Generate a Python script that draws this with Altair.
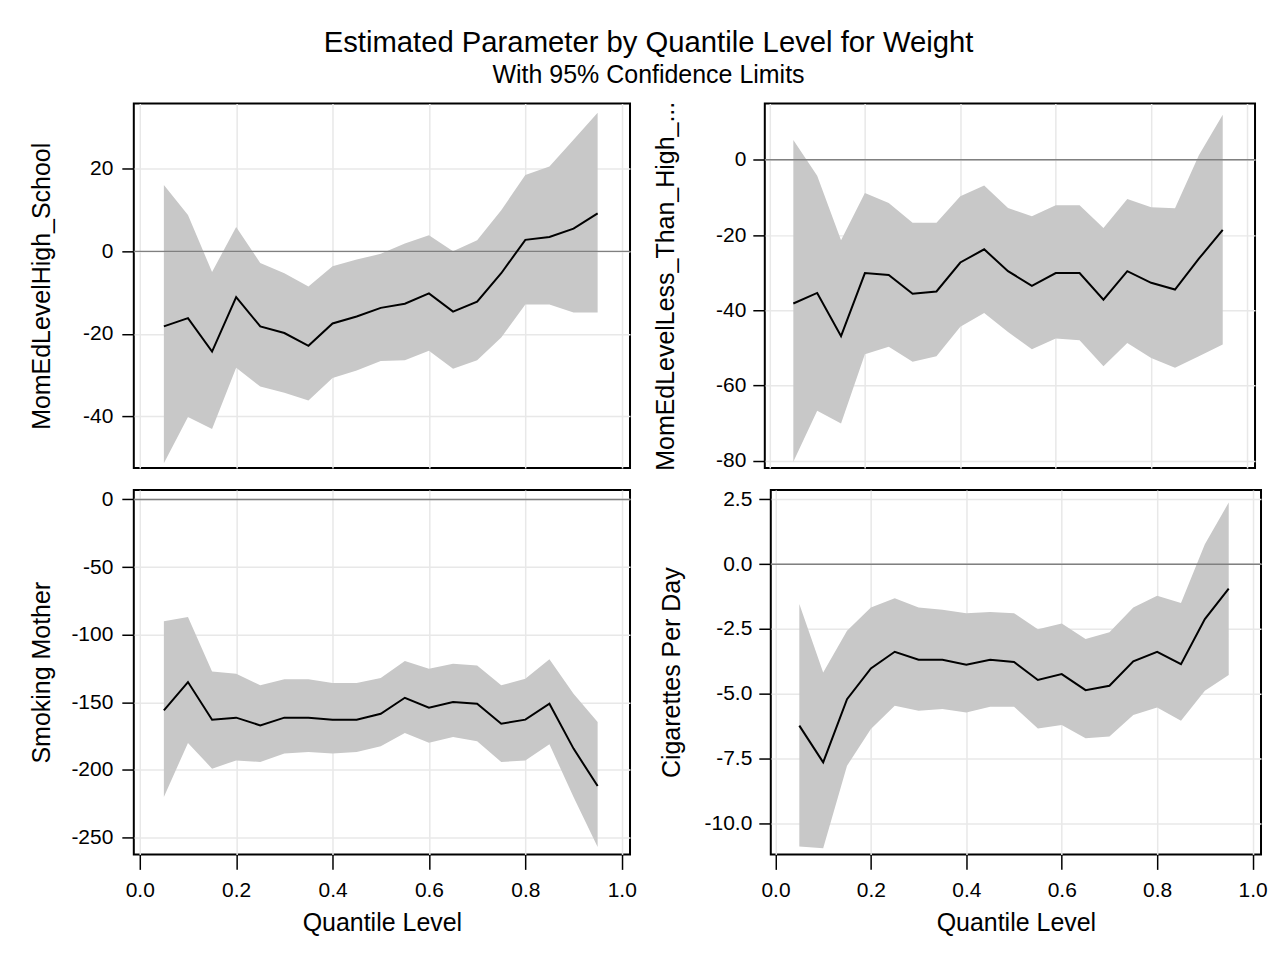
import altair as alt
import pandas as pd

# ---------------- data ----------------
quantiles = [0.05, 0.10, 0.15, 0.20, 0.25, 0.30, 0.35, 0.40, 0.45, 0.50,
             0.55, 0.60, 0.65, 0.70, 0.75, 0.80, 0.85, 0.90, 0.95]

hs_est = [-18.2, -16.2, -24.3, -11.1, -18.2, -19.8, -22.9, -17.5, -15.8, -13.7,
          -12.7, -10.2, -14.6, -12.2, -5.3, 2.8, 3.5, 5.5, 9.2]
hs_upper = [16.1, 8.8, -5.0, 5.9, -2.8, -5.3, -8.5, -3.6, -2.0, -0.6,
            1.9, 3.9, 0.0, 2.7, 10.0, 18.5, 20.6, 27.1, 33.6]
hs_lower = [-51.4, -40.2, -43.1, -28.2, -32.8, -34.3, -36.2, -30.7, -28.9, -26.6,
            -26.4, -24.1, -28.5, -26.4, -20.9, -12.9, -12.9, -14.8, -14.8]

lt_est = [-38.2, -35.4, -46.9, -30.1, -30.6, -35.6, -35.0, -27.3, -23.8, -29.6,
          -33.5, -30.1, -30.1, -37.2, -29.6, -32.7, -34.5, -26.3, -18.6]
lt_upper = [5.3, -4.2, -21.4, -8.8, -11.5, -16.7, -16.7, -9.7, -6.8, -12.8,
            -15.0, -12.1, -12.1, -18.1, -10.4, -12.6, -12.9, 1.2, 12.0]
lt_lower = [-80.3, -66.7, -70.1, -51.7, -49.7, -53.7, -52.2, -44.4, -40.7, -45.8,
            -50.4, -47.5, -48.0, -54.9, -48.7, -52.7, -55.3, -52.2, -49.1]

sm_est = [-155.9, -135.0, -162.8, -161.3, -167.0, -161.3, -161.3, -162.8, -162.8, -158.4,
          -146.6, -153.9, -149.8, -151.0, -165.8, -162.8, -151.0, -184.2, -211.8]
sm_upper = [-90.1, -86.9, -127.1, -128.8, -137.4, -133.0, -133.0, -135.7, -135.7, -132.0,
            -119.5, -125.1, -121.4, -122.7, -137.4, -132.5, -118.2, -143.6, -164.5]
sm_lower = [-219.9, -180.0, -199.0, -192.9, -194.1, -187.9, -186.7, -187.9, -186.7, -182.5,
            -172.7, -179.8, -175.6, -178.8, -194.1, -192.9, -181.0, -219.9, -256.9]

cg_est = [-6.23, -7.65, -5.21, -4.02, -3.38, -3.69, -3.69, -3.88, -3.69, -3.77,
          -4.47, -4.24, -4.86, -4.69, -3.75, -3.38, -3.86, -2.12, -0.94]
cg_upper = [-1.54, -4.18, -2.57, -1.67, -1.31, -1.67, -1.76, -1.89, -1.84, -1.89,
            -2.51, -2.29, -2.89, -2.63, -1.67, -1.22, -1.50, 0.77, 2.38]
cg_lower = [-10.90, -10.96, -7.78, -6.36, -5.46, -5.66, -5.59, -5.72, -5.50, -5.50,
            -6.34, -6.21, -6.72, -6.65, -5.82, -5.53, -6.04, -4.88, -4.28]

titles = ["MomEdLevelHigh_School", "MomEdLevelLess_Than_High_...",
          "Smoking Mother", "Cigarettes Per Day"]
x_ticks = [0.0, 0.2, 0.4, 0.6, 0.8, 1.0]
y_ticks = [[-40, -20, 0, 20], [-80, -60, -40, -20, 0],
           [-250, -200, -150, -100, -50, 0], [-10.0, -7.5, -5.0, -2.5, 0.0, 2.5]]
y_formats = ["d", "d", "d", ".1f"]
y_domains = [[-52.55, 35.85], [-81.95, 14.96], [-262.4, 7.01], [-11.201, 2.866]]

FONT = "Liberation Sans"
TXT = "#000000"


def panel(est, lower, upper, ytitle, yvals, yfmt, ydom, xdom, bottom, left, w, h):
    df = pd.DataFrame({"q": quantiles, "est": est, "lower": lower, "upper": upper})
    zero_df = pd.DataFrame({"zero": [0]})
    if bottom:
        xaxis = alt.Axis(values=x_ticks, format=".1f", tickSize=15, labelPadding=10,
                         titlePadding=10, labelFontSize=21, titleFontSize=25,
                         domain=False, grid=True)
        xtitle = "Quantile Level"
    else:
        xaxis = alt.Axis(values=x_ticks, labels=False, ticks=False, domain=False, grid=True)
        xtitle = None
    ext = 64 if left else 67
    tpad = 15 if left else 19
    lpad = 9 if left else 7
    yaxis = alt.Axis(values=yvals, format=yfmt, tickSize=12, labelPadding=lpad,
                     labelFontSize=21, titleFontSize=25, titlePadding=tpad,
                     minExtent=ext, maxExtent=ext, domain=False, grid=True)
    xs = alt.Scale(domain=xdom, nice=False, zero=False)
    ys = alt.Scale(domain=ydom, nice=False, zero=False)
    X = alt.X("q:Q", scale=xs, axis=xaxis, title=xtitle)
    band = alt.Chart(df).mark_area(color="#c8c8c8", opacity=1).encode(
        x=X,
        y=alt.Y("lower:Q", scale=ys, axis=yaxis, title=ytitle),
        y2="upper:Q",
    )
    ref = alt.Chart(zero_df).mark_rule(color="#808080", strokeWidth=1.5).encode(
        y=alt.Y("zero:Q", scale=ys, axis=yaxis, title=ytitle)
    )
    line = alt.Chart(df).mark_line(color="#000000", strokeWidth=2).encode(
        x=X,
        y=alt.Y("est:Q", scale=ys, axis=yaxis, title=ytitle),
    )
    return alt.layer(band, ref, line).properties(width=w, height=h)


xl = [-0.0124, 1.0172]
xr = [-0.0098, 1.0177]
p1 = panel(hs_est, hs_lower, hs_upper, titles[0], y_ticks[0], y_formats[0], y_domains[0], xl, False, True, 497, 365)
p2 = panel(lt_est, lt_lower, lt_upper, titles[1], y_ticks[1], y_formats[1], y_domains[1], xr, False, False, 491, 365)
p3 = panel(sm_est, sm_lower, sm_upper, titles[2], y_ticks[2], y_formats[2], y_domains[2], xl, True, True, 497, 365)
p4 = panel(cg_est, cg_lower, cg_upper, titles[3], y_ticks[3], y_formats[3], y_domains[3], xr, True, False, 491, 365)

chart = alt.vconcat(
    alt.hconcat(p1, p2, spacing=21),
    alt.hconcat(p3, p4, spacing=21),
    spacing=15,
).properties(
    title=alt.TitleParams(
        text="Estimated Parameter by Quantile Level for Weight",
        subtitle="With 95% Confidence Limits",
        anchor="middle", fontSize=29.3, subtitleFontSize=25, font=FONT, subtitleFont=FONT,
        fontWeight="normal", color=TXT, subtitleColor=TXT, offset=12, subtitlePadding=5,
    ),
    padding={"left": 21, "top": 20, "right": 0, "bottom": 0},
    background="white",
).configure(
    locale={"number": {"decimal": ".", "thousands": ",", "grouping": [3],
                       "currency": ["$", ""], "minus": "-"}}
).configure_view(
    stroke="#000000", strokeWidth=2
).configure_axis(
    labelFont=FONT, titleFont=FONT, labelColor=TXT, titleColor=TXT,
    titleFontWeight="normal", tickColor="#000000", tickWidth=1.5,
    gridColor="#e8e8e8", gridWidth=1.5,
)

chart.save("out.html", embed_options={"renderer": "svg", "actions": False})
